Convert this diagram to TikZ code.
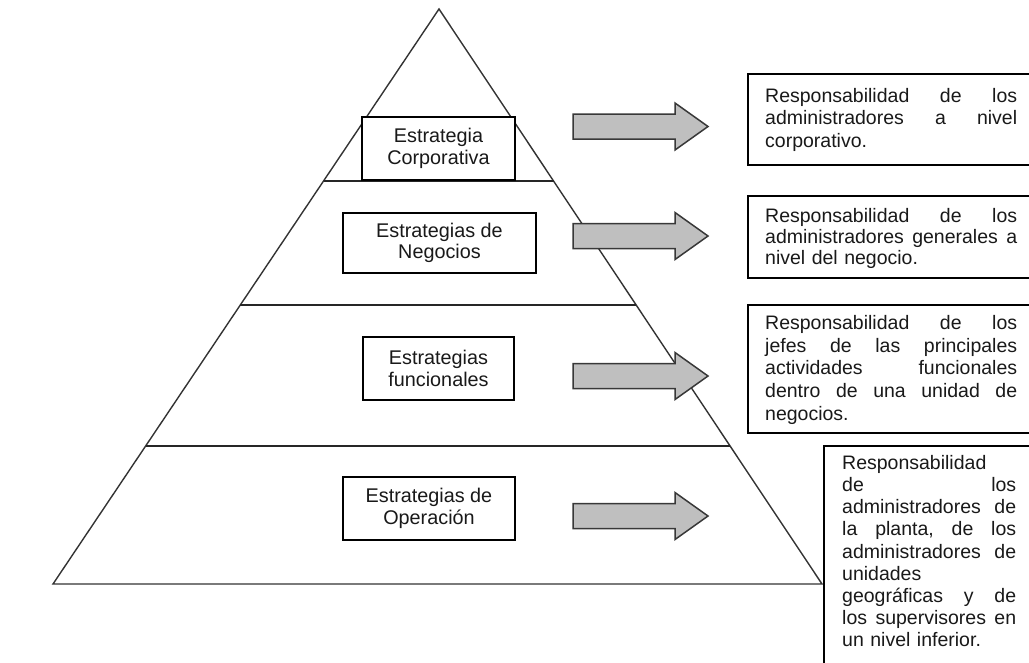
\documentclass[tikz,border=0pt]{standalone}
\usepackage{fontspec}
\setmainfont{Liberation Sans}
\usetikzlibrary{calc}
\begin{document}
\begin{tikzpicture}[x=1pt,y=-1pt,
  edge/.style={draw=black!80, line width=1.4pt, line join=miter},
  level/.style={draw=black!85, line width=1.6pt},
  stratbox/.style={draw=black, line width=1.5pt, fill=white, inner sep=0pt,
    align=center, font=\fontsize{19.8}{21.7}\selectfont, text=black!90},
  respbox/.style={draw=black, line width=1.5pt, fill=white, inner sep=0pt, anchor=north west},
  resptext/.style={inner sep=0pt, anchor=north west, align=left,
    font=\fontsize{19.5}{22.5}\selectfont, text=black!90},
  arrowfill/.style={draw=black!78, line width=1.5pt, fill=black!25, line join=miter},
  blockarrow/.pic={\draw[arrowfill] (0,-12.5) -- (102,-12.5) -- (102,-23.5) -- (135,0)
      -- (102,23.5) -- (102,12.5) -- (0,12.5) -- cycle;}
]
\useasboundingbox (0,0) rectangle (1029,662);
\clip (0,0) rectangle (1029,662);

% pyramid outline
\coordinate (apex) at (439,9);
\coordinate (bl) at (53,584);
\coordinate (br) at (822,584);
\draw[edge] (bl) -- (apex) -- (br) -- cycle;

% level separators
\foreach \yy/\nm in {181/l1, 305/l2, 446/l3}{
  \coordinate (\nm w) at ($(apex)!{(\yy-9)/575}!(bl)$);
  \coordinate (\nm e) at ($(apex)!{(\yy-9)/575}!(br)$);
  \draw[level] (\nm w) -- (\nm e);
}

% strategy levels
\node[stratbox, minimum width=153, minimum height=63] (corp) at (438.5,148.5)
  {Estrategia\\Corporativa};
\node[stratbox, minimum width=193, minimum height=60] (neg) at (439.5,243)
  {Estrategias de\\Negocios};
\node[stratbox, minimum width=151, minimum height=63] (func) at (438.5,368.5)
  {Estrategias\\funcionales};
\node[stratbox, minimum width=172, minimum height=63] (oper) at (429,508.5)
  {Estrategias de\\Operación};

% block arrows
\pic at (573,126.5) {blockarrow};
\pic at (573,236) {blockarrow};
\pic at (573,376) {blockarrow};
\pic at (573,516) {blockarrow};

% responsibility boxes
\node[respbox, minimum width=300, minimum height=91] (r1) at (747,73) {};
\node[resptext, text width=252] (t1) at (765,88)
  {Responsabilidad \hfill de \hfill los\\
   administradores \hfill a \hfill nivel\\
   corporativo.};

\node[respbox, minimum width=300, minimum height=82] (r2) at (747,195) {};
\node[resptext, text width=252, font=\fontsize{19.5}{21}\selectfont] (t2) at (765,208)
  {Responsabilidad \hfill de \hfill los\\
   administradores \hfill generales \hfill a\\
   nivel del negocio.};

\node[respbox, minimum width=300, minimum height=128] (r3) at (747,304) {};
\node[resptext, text width=252, font=\fontsize{19.5}{22.7}\selectfont] (t3) at (765,315)
  {Responsabilidad \hfill de \hfill los\\
   jefes \hfill de \hfill las \hfill principales\\
   actividades \hfill funcionales\\
   dentro \hfill de \hfill una \hfill unidad \hfill de\\
   negocios.};

\node[respbox, minimum width=230, minimum height=260] (r4) at (823,445) {};
\node[resptext, text width=174, font=\fontsize{19.5}{22.2}\selectfont] (t4) at (842,455)
  {Responsabilidad\\
   de \hfill los\\
   administradores \hfill de\\
   la \hfill planta, \hfill de \hfill los\\
   administradores \hfill de\\
   unidades\\
   geográficas \hfill y \hfill de\\
   los \hfill supervisores \hfill en\\
   un nivel inferior.};
\end{tikzpicture}
\end{document}
